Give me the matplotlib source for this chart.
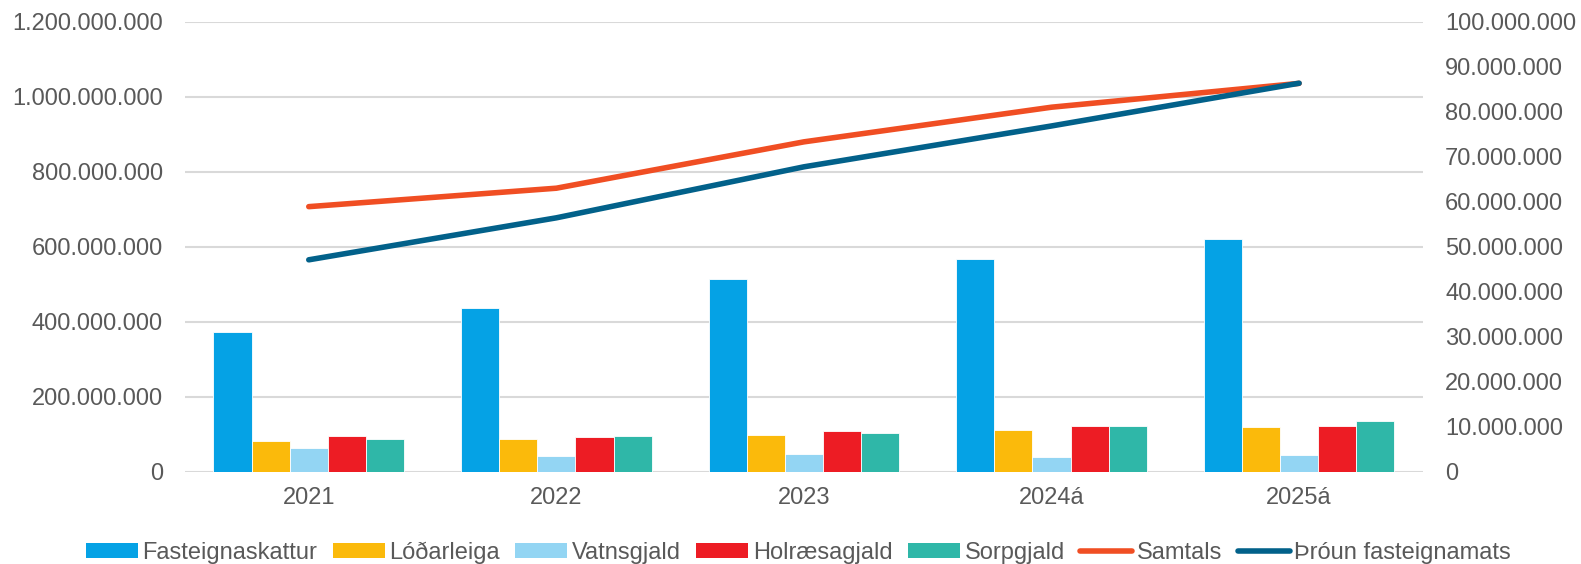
import numpy as np
import matplotlib
matplotlib.use('Agg')
import matplotlib.pyplot as plt
from matplotlib.ticker import FuncFormatter, MultipleLocator
from matplotlib.transforms import blended_transform_factory
from matplotlib.patches import Patch
from matplotlib.lines import Line2D

plt.rcParams['font.family'] = ['Liberation Sans', 'DejaVu Sans']

years = ['2021', '2022', '2023', '2024á', '2025á']
fasteignaskattur = [31.1e6, 36.3e6, 42.9e6, 47.2e6, 51.8e6]
lodarleiga = [6.75e6, 7.2e6, 8.2e6, 9.3e6, 9.9e6]
vatnsgjald = [5.2e6, 3.4e6, 3.9e6, 3.3e6, 3.6e6]
holraesagjald = [7.95e6, 7.65e6, 9.0e6, 10.2e6, 10.25e6]
sorpgjald = [7.2e6, 7.95e6, 8.7e6, 10.1e6, 11.2e6]
samtals = [58.9e6, 63.0e6, 73.3e6, 81.0e6, 86.3e6]
throun = [565e6, 677e6, 813e6, 922e6, 1036e6]

bar_series = [
    ('Fasteignaskattur', fasteignaskattur, '#05A2E5'),
    ('Lóðarleiga', lodarleiga, '#FBBA0B'),
    ('Vatnsgjald', vatnsgjald, '#93D5F3'),
    ('Holræsagjald', holraesagjald, '#ED1C24'),
    ('Sorpgjald', sorpgjald, '#2FB7A8'),
]
txt = '#595959'
grid_c = '#D9D9D9'

def dotfmt(v, pos):
    return f'{int(round(v)):,}'.replace(',', '.')

fig = plt.figure(figsize=(15.81, 5.64), dpi=100)
ax = fig.add_axes([0.117, 0.1637, 0.783, 0.7978])
ax2 = ax.twinx()
ax.set_zorder(ax2.get_zorder() + 1)
ax.patch.set_visible(False)

x = np.arange(len(years))
w = 0.154
for i, (name, vals, col) in enumerate(bar_series):
    ax2.bar(x + (i - 2) * w, vals, w, color=col, edgecolor='white', linewidth=0.6, zorder=2)
ax2.plot(x, samtals, color='#F04E23', lw=4, solid_capstyle='round', zorder=3)
ax.plot(x, throun, color='#02618A', lw=4, solid_capstyle='round')

ax.set_xlim(-0.5, len(years) - 0.5)
ax.set_ylim(0, 1.2e9)
ax2.set_ylim(0, 100e6)
ax.yaxis.set_major_locator(MultipleLocator(200e6))
ax2.yaxis.set_major_locator(MultipleLocator(10e6))
ax.yaxis.set_major_formatter(FuncFormatter(dotfmt))
ax2.yaxis.set_major_formatter(FuncFormatter(dotfmt))

# gridlines of the left axis, drawn behind the bars
tr = blended_transform_factory(ax2.transAxes, ax.transData)
for t in np.arange(0, 1.2e9 + 1, 200e6):
    ax2.plot([0, 1], [t, t], transform=tr, color=grid_c, lw=1.5, zorder=0)

ax.set_xticks(x)
ax.set_xticklabels(years)
for a in (ax, ax2):
    for s in a.spines.values():
        s.set_visible(False)
    a.tick_params(length=0, labelsize=17, labelcolor=txt)
ax.tick_params(axis='y', pad=16)
ax2.tick_params(axis='y', pad=16)
ax.tick_params(axis='x', pad=11)

handles = [Patch(facecolor=c, edgecolor='none') for _, _, c in bar_series]
handles += [Line2D([], [], color='#F04E23', lw=4, solid_capstyle='round'),
            Line2D([], [], color='#02618A', lw=4, solid_capstyle='round')]
labels = [n for n, _, _ in bar_series] + ['Samtals', 'Þróun fasteignamats']
fig.legend(handles, labels, loc='center', bbox_to_anchor=(0.505, 0.02), ncol=7,
           frameon=False, fontsize=17, labelcolor=txt, handlelength=2.2,
           handleheight=0.55, handletextpad=0.2, columnspacing=0.65)

fig.savefig('out.png', dpi=100)
